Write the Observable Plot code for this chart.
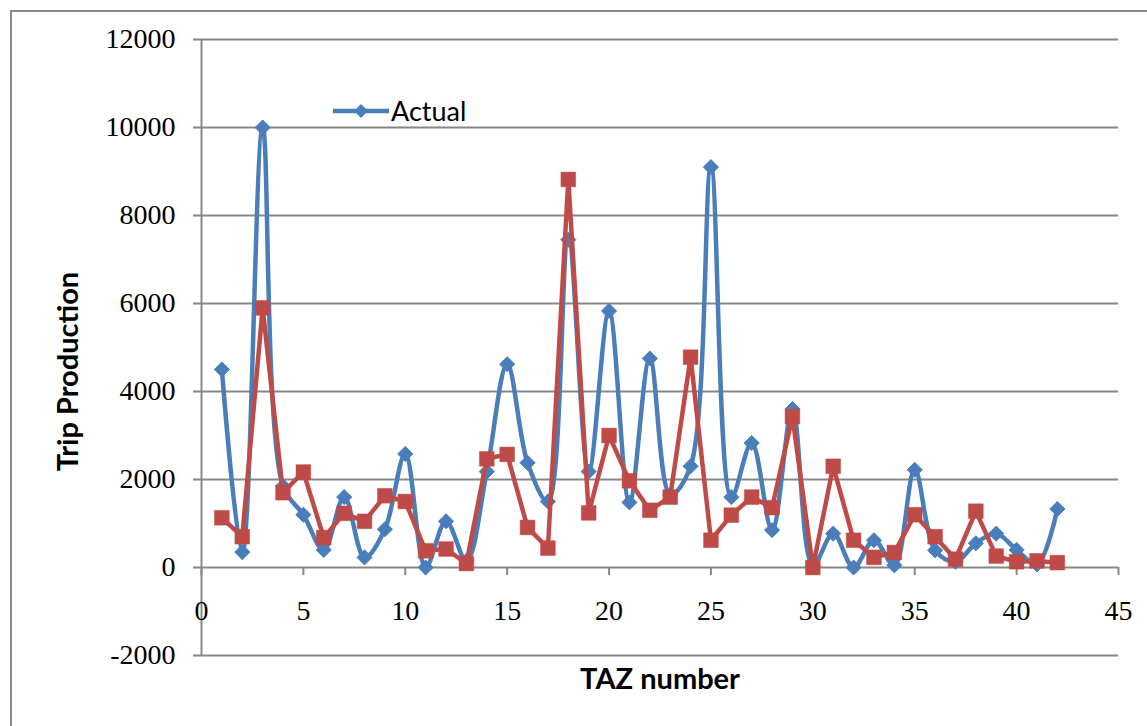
<!DOCTYPE html>
<html>
<head>
<meta charset="utf-8">
<script src="https://cdn.jsdelivr.net/npm/d3@7"></script>
<script src="https://cdn.jsdelivr.net/npm/@observablehq/plot@0.6"></script>
<style>
  html, body { margin: 0; padding: 0; background: #fff; }
  #wrap { position: relative; width: 1147px; height: 726px; overflow: hidden; }
  #frame { position: absolute; left: 10px; top: 10px; right: -10px; bottom: -10px;
           border-top: 2px solid #8a8a8a; border-left: 2px solid #8a8a8a; }
  #chart { position: absolute; left: 0; top: 0; }
  #legend { position: absolute; left: 333px; top: 94px; display: flex; align-items: center;
            font-family: Lato, "Open Sans", sans-serif; font-size: 27px; color: #000; }
  #legend svg { margin-right: 2px; }
</style>
</head>
<body>
<div id="wrap">
  <div id="frame"></div>
  <div id="chart"></div>
  <div id="legend"></div>
</div>
<script>
// ---- data ----
const taz = [1,2,3,4,5,6,7,8,9,10,11,12,13,14,15,16,17,18,19,20,21,22,23,24,25,26,27,28,29,30,31,32,33,34,35,36,37,38,39,40,41,42];
const actual = [4500, 350, 10000, 1850, 1200, 400, 1600, 230, 870, 2580, 0, 1050, 150, 2180, 4620, 2380, 1500, 7450, 2180, 5830, 1480, 4750, 1650, 2300, 9100, 1600, 2830, 850, 3600, 40, 770, 0, 620, 50, 2220, 390, 130, 550, 770, 400, 70, 1330];
const estimated = [1130, 700, 5900, 1700, 2170, 680, 1230, 1050, 1630, 1500, 380, 420, 90, 2470, 2570, 910, 440, 8820, 1240, 3000, 1970, 1300, 1600, 4780, 620, 1190, 1600, 1360, 3430, 0, 2300, 620, 230, 340, 1200, 700, 190, 1280, 260, 130, 150, 110];
const xTicks = [0, 5, 10, 15, 20, 25, 30, 35, 40, 45];
const yTicks = [-2000, 0, 2000, 4000, 6000, 8000, 10000, 12000];
const gridTicks = [-2000, 2000, 4000, 6000, 8000, 10000, 12000];
const seriesNames = ["Actual", "Estimated"];
const xTitle = "TAZ number";
const yTitle = "Trip Production";

const blue = "#4a7ebb";
const red = "#be4b48";
const gray = "#878787";

const actualData = taz.map((t, i) => ({taz: t, value: actual[i]}));
const estData = taz.map((t, i) => ({taz: t, value: estimated[i]}));

const chart = Plot.plot({
  width: 1147,
  height: 726,
  marginLeft: 201,
  marginRight: 29,
  marginTop: 39,
  marginBottom: 159,
  style: {background: "transparent", overflow: "visible"},
  x: {domain: [0, 45]},
  y: {domain: [0, 12000]},
  marks: [
    Plot.ruleY(gridTicks, {y: d => d, stroke: gray, strokeWidth: 2}),
    Plot.ruleY([0], {stroke: gray, strokeWidth: 2}),
    Plot.ruleX([0], {x: d => d, y1: -2000, y2: 12000, stroke: gray, strokeWidth: 2}),
    Plot.axisY({ticks: yTicks, tickSize: 8, tickPadding: 18, stroke: gray, strokeWidth: 2,
      tickFormat: d => String(d), fontSize: 28, fontFamily: "'Liberation Serif', 'Times New Roman', serif", color: "#000", label: null}),
    Plot.axisX({anchor: "bottom", ticks: xTicks, tickSize: 8, tickPadding: 25, stroke: gray, strokeWidth: 2,
      tickFormat: d => String(d), fontSize: 28, fontFamily: "'Liberation Serif', 'Times New Roman', serif", color: "#000", label: null}),
    Plot.line(actualData, {x: "taz", y: "value", stroke: blue, strokeWidth: 4.5, curve: "catmull-rom"}),
    Plot.dot(actualData, {x: "taz", y: "value", symbol: "diamond2", r: 6.8, fill: blue, stroke: blue, strokeWidth: 1}),
    Plot.line(estData, {x: "taz", y: "value", stroke: red, strokeWidth: 4.5, curve: "linear"}),
    Plot.dot(estData, {x: "taz", y: "value", symbol: "square", r: 8.3, fill: red, stroke: red, strokeWidth: 0.5}),
    Plot.text([xTitle], {frameAnchor: "bottom", dy: 121, lineAnchor: "bottom", fontSize: 29, fontWeight: "bold",
      fontFamily: "Lato, 'Open Sans', sans-serif", fill: "#000"}),
    Plot.text([yTitle], {frameAnchor: "left", textAnchor: "middle", rotate: -90, dx: -133, dy: 68, fontSize: 29, fontWeight: "bold",
      fontFamily: "Lato, 'Open Sans', sans-serif", fill: "#000"})
  ]
});
document.getElementById("chart").appendChild(chart);

// legend (only the first entry is visible in the reference)
const leg = document.getElementById("legend");
const ns = "http://www.w3.org/2000/svg";
const ls = document.createElementNS(ns, "svg");
ls.setAttribute("width", 56); ls.setAttribute("height", 20);
const ln = document.createElementNS(ns, "line");
ln.setAttribute("x1", 0); ln.setAttribute("x2", 56); ln.setAttribute("y1", 10); ln.setAttribute("y2", 10);
ln.setAttribute("stroke", blue); ln.setAttribute("stroke-width", 4.5);
ls.appendChild(ln);
const dm = document.createElementNS(ns, "path");
dm.setAttribute("d", "M28,3 L35,10 L28,17 L21,10 Z");
dm.setAttribute("fill", blue);
ls.appendChild(dm);
leg.appendChild(ls);
const lt = document.createElement("span");
lt.textContent = seriesNames[0];
leg.appendChild(lt);
</script>
</body>
</html>
